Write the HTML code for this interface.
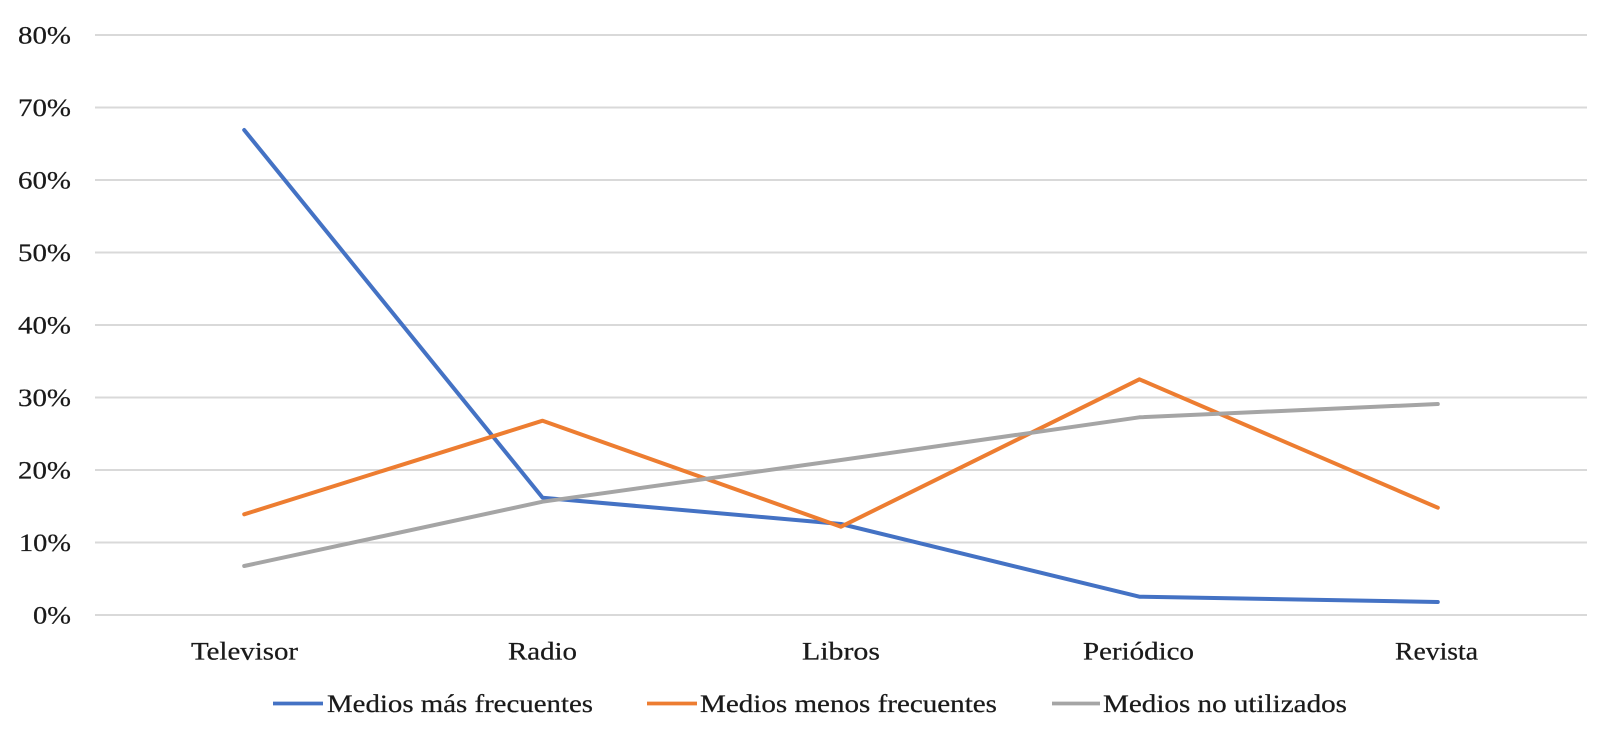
<!DOCTYPE html>
<html>
<head>
<meta charset="utf-8">
<style>
  html, body { margin: 0; padding: 0; background: #ffffff; }
  svg { display: block; }
  text { font-family: "Liberation Serif", "Times New Roman", serif; font-size: 25px; fill: #1a1a1a; stroke: #1a1a1a; stroke-width: 0.25px; }
</style>
</head>
<body>
<svg width="1615" height="753" viewBox="0 0 1615 753" xmlns="http://www.w3.org/2000/svg">
  <rect x="0" y="0" width="1615" height="753" fill="#ffffff"/>

  <!-- gridlines -->
  <g stroke="#d9d9d9" stroke-width="2">
    <line x1="95" y1="35" x2="1587" y2="35"/>
    <line x1="95" y1="107.5" x2="1587" y2="107.5"/>
    <line x1="95" y1="180" x2="1587" y2="180"/>
    <line x1="95" y1="252.5" x2="1587" y2="252.5"/>
    <line x1="95" y1="325" x2="1587" y2="325"/>
    <line x1="95" y1="397.5" x2="1587" y2="397.5"/>
    <line x1="95" y1="470" x2="1587" y2="470"/>
    <line x1="95" y1="542.5" x2="1587" y2="542.5"/>
    <line x1="95" y1="615" x2="1587" y2="615"/>
  </g>

  <!-- y labels -->
  <text x="18" y="43.5" textLength="53" lengthAdjust="spacingAndGlyphs">80%</text>
  <text x="18" y="116" textLength="53" lengthAdjust="spacingAndGlyphs">70%</text>
  <text x="18" y="188.5" textLength="53" lengthAdjust="spacingAndGlyphs">60%</text>
  <text x="18" y="261" textLength="53" lengthAdjust="spacingAndGlyphs">50%</text>
  <text x="18" y="333.5" textLength="53" lengthAdjust="spacingAndGlyphs">40%</text>
  <text x="18" y="406" textLength="53" lengthAdjust="spacingAndGlyphs">30%</text>
  <text x="18" y="478.5" textLength="53" lengthAdjust="spacingAndGlyphs">20%</text>
  <text x="19" y="551" textLength="52" lengthAdjust="spacingAndGlyphs">10%</text>
  <text x="33" y="623.5" textLength="38" lengthAdjust="spacingAndGlyphs">0%</text>

  <!-- x labels -->
  <text x="191" y="659.5" textLength="107" lengthAdjust="spacingAndGlyphs">Televisor</text>
  <text x="508" y="659.5" textLength="69" lengthAdjust="spacingAndGlyphs">Radio</text>
  <text x="802" y="659.5" textLength="78" lengthAdjust="spacingAndGlyphs">Libros</text>
  <text x="1083" y="659.5" textLength="111" lengthAdjust="spacingAndGlyphs">Periódico</text>
  <text x="1395" y="659.5" textLength="83" lengthAdjust="spacingAndGlyphs">Revista</text>

  <!-- series -->
  <g fill="none" stroke-width="4" stroke-linejoin="round" stroke-linecap="round">
    <polyline stroke="#4472c4" points="244.2,130 542.6,497.7 841,524 1139.4,596.7 1437.8,602"/>
    <polyline stroke="#ed7d31" points="244.2,514.3 542.6,420.7 841,526.7 1139.4,379.3 1437.8,507.7"/>
    <polyline stroke="#a5a5a5" points="244.2,566 542.6,501.7 841,460 1139.4,417.3 1437.8,404"/>
  </g>

  <!-- legend -->
  <line x1="273" y1="703.5" x2="323" y2="703.5" stroke="#4472c4" stroke-width="3.8"/>
  <text x="327" y="712" textLength="266" lengthAdjust="spacingAndGlyphs">Medios más frecuentes</text>

  <line x1="647" y1="703.5" x2="697" y2="703.5" stroke="#ed7d31" stroke-width="3.8"/>
  <text x="700" y="712" textLength="297" lengthAdjust="spacingAndGlyphs">Medios menos frecuentes</text>

  <line x1="1052" y1="703.5" x2="1100" y2="703.5" stroke="#a5a5a5" stroke-width="3.8"/>
  <text x="1103" y="712" textLength="244" lengthAdjust="spacingAndGlyphs">Medios no utilizados</text>
</svg>
</body>
</html>
